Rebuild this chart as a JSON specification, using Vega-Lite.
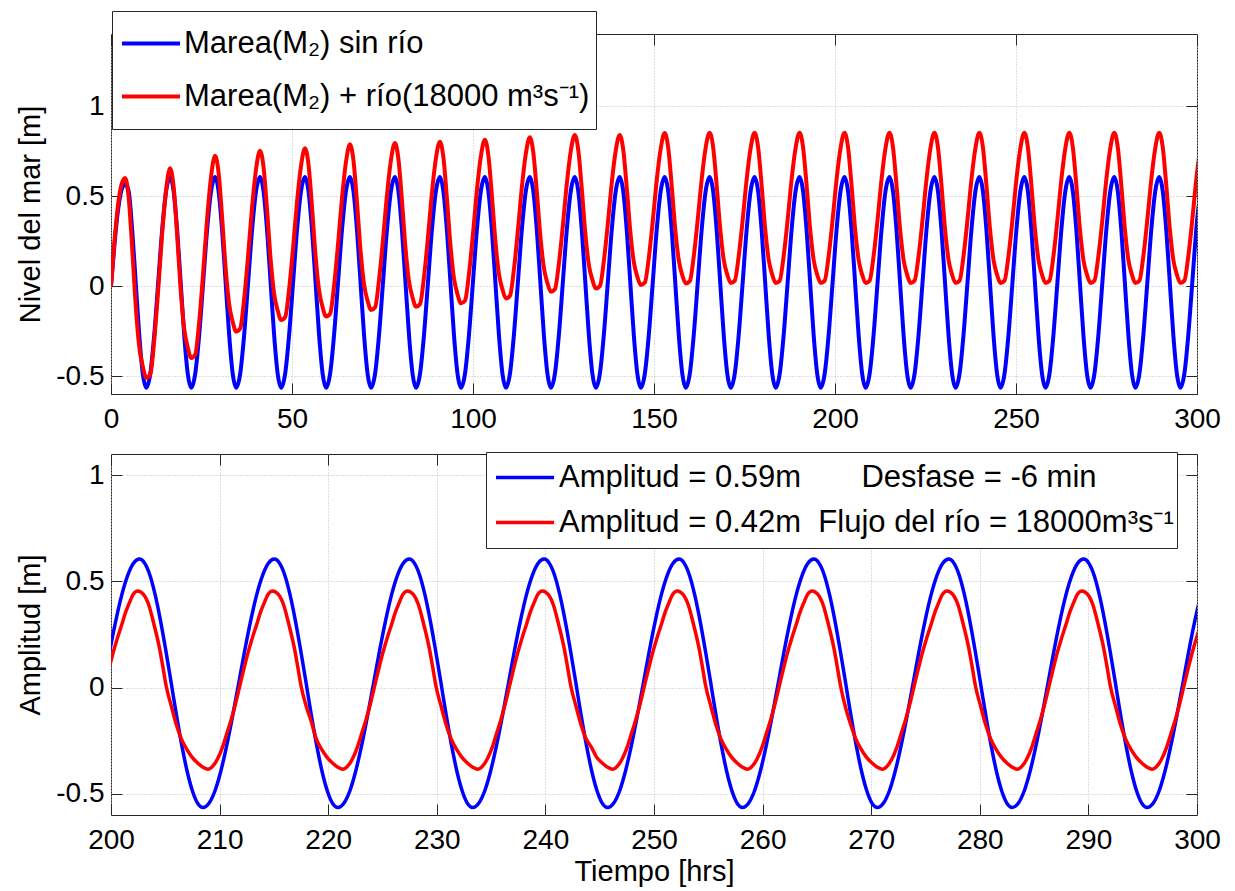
{
  "$schema": "https://vega.github.io/schema/vega-lite/v6.json",
  "background": "white",
  "padding": {"left": 15, "top": 10, "right": 20, "bottom": 0},
  "spacing": 17,
  "config": {
    "view": {"stroke": "#262626", "strokeWidth": 1},
    "axis": {
      "domain": false,
      "labelFont": "Liberation Sans",
      "labelFontSize": 28,
      "labelColor": "#000000",
      "titleFont": "Liberation Sans",
      "titleFontSize": 29,
      "titleFontWeight": "normal",
      "titleColor": "#000000",
      "tickColor": "#262626",
      "tickWidth": 1,
      "tickSize": -11,
      "gridColor": "#bfbfbf",
      "gridDash": [1, 2],
      "gridWidth": 1,
      "labelFlush": false,
      "labelOverlap": false,
      "labelBound": false
    },
    "legend": {
      "labelFont": "Liberation Sans",
      "labelColor": "#000000",
      "labelLimit": 2000,
      "strokeColor": "#262626",
      "fillColor": "#ffffff",
      "symbolType": "stroke",
      "rowPadding": 0,
      "title": null
    }
  },
  "datasets": {
    "top": [
      {"t":0,"b":0,"r":0},{"t":1,"b":0.24,"r":0.26},{"t":2,"b":0.43,"r":0.46},{"t":3,"b":0.54,"r":0.57},{"t":3.9,"b":0.565,"r":0.6},
      {"t":4.88,"b":0.527,"r":0.492},{"t":5.85,"b":0.312,"r":0.212},{"t":6.83,"b":0.02,"r":-0.111},{"t":7.8,"b":-0.272,"r":-0.338},{"t":8.78,"b":-0.487,"r":-0.448},{"t":9.75,"b":-0.565,"r":-0.51},{"t":10.85,"b":-0.487,"r":-0.491},{"t":11.94,"b":-0.272,"r":-0.302},{"t":13.04,"b":0.02,"r":-0.02},{"t":14.13,"b":0.312,"r":0.291},{"t":15.23,"b":0.527,"r":0.535},
      {"t":16.32,"b":0.605,"r":0.654},{"t":17.3,"b":0.527,"r":0.551},{"t":18.27,"b":0.312,"r":0.285},{"t":19.25,"b":0.02,"r":-0.021},{"t":20.22,"b":-0.272,"r":-0.237},{"t":21.2,"b":-0.487,"r":-0.341},{"t":22.17,"b":-0.565,"r":-0.4},{"t":23.27,"b":-0.487,"r":-0.381},{"t":24.36,"b":-0.272,"r":-0.199},{"t":25.46,"b":0.02,"r":0.074},{"t":26.55,"b":0.312,"r":0.373},{"t":27.65,"b":0.527,"r":0.609},
      {"t":28.74,"b":0.605,"r":0.724},{"t":29.72,"b":0.527,"r":0.629},{"t":30.69,"b":0.312,"r":0.382},{"t":31.67,"b":0.02,"r":0.099},{"t":32.64,"b":-0.272,"r":-0.102},{"t":33.62,"b":-0.487,"r":-0.199},{"t":34.59,"b":-0.565,"r":-0.253},{"t":35.69,"b":-0.487,"r":-0.236},{"t":36.78,"b":-0.272,"r":-0.073},{"t":37.88,"b":0.02,"r":0.17},{"t":38.97,"b":0.312,"r":0.438},{"t":40.07,"b":0.527,"r":0.649},
      {"t":41.16,"b":0.605,"r":0.752},{"t":42.14,"b":0.527,"r":0.66},{"t":43.11,"b":0.312,"r":0.423},{"t":44.09,"b":0.02,"r":0.15},{"t":45.06,"b":-0.272,"r":-0.043},{"t":46.04,"b":-0.487,"r":-0.136},{"t":47.01,"b":-0.565,"r":-0.189},{"t":48.11,"b":-0.487,"r":-0.173},{"t":49.2,"b":-0.272,"r":-0.018},{"t":50.3,"b":0.02,"r":0.213},{"t":51.39,"b":0.312,"r":0.467},{"t":52.49,"b":0.527,"r":0.667},
      {"t":53.58,"b":0.605,"r":0.765},{"t":54.56,"b":0.527,"r":0.674},{"t":55.53,"b":0.312,"r":0.438},{"t":56.51,"b":0.02,"r":0.167},{"t":57.48,"b":-0.272,"r":-0.025},{"t":58.46,"b":-0.487,"r":-0.118},{"t":59.43,"b":-0.565,"r":-0.17},{"t":60.53,"b":-0.487,"r":-0.154},{"t":61.62,"b":-0.272,"r":0.001},{"t":62.72,"b":0.02,"r":0.233},{"t":63.81,"b":0.312,"r":0.488},{"t":64.91,"b":0.527,"r":0.689},
      {"t":66,"b":0.605,"r":0.787},{"t":66.98,"b":0.527,"r":0.697},{"t":67.95,"b":0.312,"r":0.465},{"t":68.93,"b":0.02,"r":0.198},{"t":69.9,"b":-0.272,"r":0.01},{"t":70.88,"b":-0.487,"r":-0.082},{"t":71.85,"b":-0.565,"r":-0.133},{"t":72.95,"b":-0.487,"r":-0.118},{"t":74.04,"b":-0.272,"r":0.033},{"t":75.14,"b":0.02,"r":0.257},{"t":76.23,"b":0.312,"r":0.504},{"t":77.33,"b":0.527,"r":0.699},
      {"t":78.42,"b":0.605,"r":0.794},{"t":79.4,"b":0.527,"r":0.705},{"t":80.37,"b":0.312,"r":0.476},{"t":81.35,"b":0.02,"r":0.212},{"t":82.32,"b":-0.272,"r":0.026},{"t":83.3,"b":-0.487,"r":-0.064},{"t":84.27,"b":-0.565,"r":-0.115},{"t":85.37,"b":-0.487,"r":-0.1},{"t":86.46,"b":-0.272,"r":0.049},{"t":87.56,"b":0.02,"r":0.271},{"t":88.65,"b":0.312,"r":0.516},{"t":89.75,"b":0.527,"r":0.708},
      {"t":90.84,"b":0.605,"r":0.802},{"t":91.82,"b":0.527,"r":0.715},{"t":92.79,"b":0.312,"r":0.488},{"t":93.77,"b":0.02,"r":0.227},{"t":94.74,"b":-0.272,"r":0.043},{"t":95.72,"b":-0.487,"r":-0.046},{"t":96.69,"b":-0.565,"r":-0.096},{"t":97.79,"b":-0.487,"r":-0.081},{"t":98.88,"b":-0.272,"r":0.066},{"t":99.98,"b":0.02,"r":0.287},{"t":101.07,"b":0.312,"r":0.529},{"t":102.17,"b":0.527,"r":0.72},
      {"t":103.26,"b":0.605,"r":0.813},{"t":104.24,"b":0.527,"r":0.727},{"t":105.21,"b":0.312,"r":0.505},{"t":106.19,"b":0.02,"r":0.249},{"t":107.16,"b":-0.272,"r":0.068},{"t":108.14,"b":-0.487,"r":-0.019},{"t":109.11,"b":-0.565,"r":-0.069},{"t":110.21,"b":-0.487,"r":-0.054},{"t":111.3,"b":-0.272,"r":0.091},{"t":112.4,"b":0.02,"r":0.308},{"t":113.49,"b":0.312,"r":0.547},{"t":114.59,"b":0.527,"r":0.734},
      {"t":115.68,"b":0.605,"r":0.826},{"t":116.66,"b":0.527,"r":0.742},{"t":117.63,"b":0.312,"r":0.526},{"t":118.61,"b":0.02,"r":0.277},{"t":119.58,"b":-0.272,"r":0.101},{"t":120.56,"b":-0.487,"r":0.016},{"t":121.53,"b":-0.565,"r":-0.032},{"t":122.63,"b":-0.487,"r":-0.018},{"t":123.72,"b":-0.272,"r":0.124},{"t":124.82,"b":0.02,"r":0.335},{"t":125.91,"b":0.312,"r":0.567},{"t":127.01,"b":0.527,"r":0.75},
      {"t":128.1,"b":0.605,"r":0.839},{"t":129.08,"b":0.527,"r":0.756},{"t":130.05,"b":0.312,"r":0.541},{"t":131.03,"b":0.02,"r":0.293},{"t":132,"b":-0.272,"r":0.118},{"t":132.98,"b":-0.487,"r":0.034},{"t":133.95,"b":-0.565,"r":-0.014},{"t":135.05,"b":-0.487,"r":0},{"t":136.14,"b":-0.272,"r":0.138},{"t":137.24,"b":0.02,"r":0.345},{"t":138.33,"b":0.312,"r":0.573},{"t":139.43,"b":0.527,"r":0.752},
      {"t":140.52,"b":0.605,"r":0.839},{"t":141.5,"b":0.527,"r":0.758},{"t":142.47,"b":0.312,"r":0.547},{"t":143.45,"b":0.02,"r":0.305},{"t":144.42,"b":-0.272,"r":0.134},{"t":145.4,"b":-0.487,"r":0.051},{"t":146.37,"b":-0.565,"r":0.005},{"t":147.47,"b":-0.487,"r":0.019},{"t":148.56,"b":-0.272,"r":0.156},{"t":149.66,"b":0.02,"r":0.361},{"t":150.75,"b":0.312,"r":0.586},{"t":151.85,"b":0.527,"r":0.763},
      {"t":152.94,"b":0.605,"r":0.85},{"t":153.92,"b":0.527,"r":0.769},{"t":154.89,"b":0.312,"r":0.557},{"t":155.87,"b":0.02,"r":0.315},{"t":156.84,"b":-0.272,"r":0.144},{"t":157.82,"b":-0.487,"r":0.06},{"t":158.79,"b":-0.565,"r":0.014},{"t":159.89,"b":-0.487,"r":0.028},{"t":160.98,"b":-0.272,"r":0.164},{"t":162.08,"b":0.02,"r":0.368},{"t":163.17,"b":0.312,"r":0.592},{"t":164.27,"b":0.527,"r":0.768},
      {"t":165.36,"b":0.605,"r":0.852},{"t":166.34,"b":0.527,"r":0.771},{"t":167.31,"b":0.312,"r":0.56},{"t":168.29,"b":0.02,"r":0.318},{"t":169.26,"b":-0.272,"r":0.146},{"t":170.24,"b":-0.487,"r":0.063},{"t":171.21,"b":-0.565,"r":0.017},{"t":172.31,"b":-0.487,"r":0.03},{"t":173.4,"b":-0.272,"r":0.166},{"t":174.5,"b":0.02,"r":0.368},{"t":175.59,"b":0.312,"r":0.591},{"t":176.69,"b":0.527,"r":0.766},
      {"t":177.78,"b":0.605,"r":0.852},{"t":178.76,"b":0.527,"r":0.771},{"t":179.73,"b":0.312,"r":0.56},{"t":180.71,"b":0.02,"r":0.318},{"t":181.68,"b":-0.272,"r":0.146},{"t":182.66,"b":-0.487,"r":0.063},{"t":183.63,"b":-0.565,"r":0.017},{"t":184.73,"b":-0.487,"r":0.03},{"t":185.82,"b":-0.272,"r":0.166},{"t":186.92,"b":0.02,"r":0.368},{"t":188.01,"b":0.312,"r":0.591},{"t":189.11,"b":0.527,"r":0.766},
      {"t":190.2,"b":0.605,"r":0.852},{"t":191.18,"b":0.527,"r":0.771},{"t":192.15,"b":0.312,"r":0.56},{"t":193.13,"b":0.02,"r":0.318},{"t":194.1,"b":-0.272,"r":0.146},{"t":195.08,"b":-0.487,"r":0.063},{"t":196.05,"b":-0.565,"r":0.017},{"t":197.15,"b":-0.487,"r":0.03},{"t":198.24,"b":-0.272,"r":0.166},{"t":199.34,"b":0.02,"r":0.368},{"t":200.43,"b":0.312,"r":0.591},{"t":201.53,"b":0.527,"r":0.766},
      {"t":202.62,"b":0.605,"r":0.852},{"t":203.6,"b":0.527,"r":0.771},{"t":204.57,"b":0.312,"r":0.56},{"t":205.55,"b":0.02,"r":0.318},{"t":206.52,"b":-0.272,"r":0.146},{"t":207.5,"b":-0.487,"r":0.063},{"t":208.47,"b":-0.565,"r":0.017},{"t":209.57,"b":-0.487,"r":0.03},{"t":210.66,"b":-0.272,"r":0.166},{"t":211.76,"b":0.02,"r":0.368},{"t":212.85,"b":0.312,"r":0.591},{"t":213.95,"b":0.527,"r":0.766},
      {"t":215.04,"b":0.605,"r":0.852},{"t":216.02,"b":0.527,"r":0.771},{"t":216.99,"b":0.312,"r":0.56},{"t":217.97,"b":0.02,"r":0.318},{"t":218.94,"b":-0.272,"r":0.146},{"t":219.92,"b":-0.487,"r":0.063},{"t":220.89,"b":-0.565,"r":0.017},{"t":221.99,"b":-0.487,"r":0.03},{"t":223.08,"b":-0.272,"r":0.166},{"t":224.18,"b":0.02,"r":0.368},{"t":225.27,"b":0.312,"r":0.591},{"t":226.37,"b":0.527,"r":0.766},
      {"t":227.46,"b":0.605,"r":0.852},{"t":228.44,"b":0.527,"r":0.771},{"t":229.41,"b":0.312,"r":0.56},{"t":230.39,"b":0.02,"r":0.318},{"t":231.36,"b":-0.272,"r":0.146},{"t":232.34,"b":-0.487,"r":0.063},{"t":233.31,"b":-0.565,"r":0.017},{"t":234.41,"b":-0.487,"r":0.03},{"t":235.5,"b":-0.272,"r":0.166},{"t":236.6,"b":0.02,"r":0.368},{"t":237.69,"b":0.312,"r":0.591},{"t":238.79,"b":0.527,"r":0.766},
      {"t":239.88,"b":0.605,"r":0.852},{"t":240.86,"b":0.527,"r":0.771},{"t":241.83,"b":0.312,"r":0.56},{"t":242.81,"b":0.02,"r":0.318},{"t":243.78,"b":-0.272,"r":0.146},{"t":244.76,"b":-0.487,"r":0.063},{"t":245.73,"b":-0.565,"r":0.017},{"t":246.83,"b":-0.487,"r":0.03},{"t":247.92,"b":-0.272,"r":0.166},{"t":249.02,"b":0.02,"r":0.368},{"t":250.11,"b":0.312,"r":0.591},{"t":251.21,"b":0.527,"r":0.766},
      {"t":252.3,"b":0.605,"r":0.852},{"t":253.28,"b":0.527,"r":0.771},{"t":254.25,"b":0.312,"r":0.56},{"t":255.23,"b":0.02,"r":0.318},{"t":256.2,"b":-0.272,"r":0.146},{"t":257.18,"b":-0.487,"r":0.063},{"t":258.15,"b":-0.565,"r":0.017},{"t":259.25,"b":-0.487,"r":0.03},{"t":260.34,"b":-0.272,"r":0.166},{"t":261.44,"b":0.02,"r":0.368},{"t":262.53,"b":0.312,"r":0.591},{"t":263.63,"b":0.527,"r":0.766},
      {"t":264.72,"b":0.605,"r":0.852},{"t":265.7,"b":0.527,"r":0.771},{"t":266.67,"b":0.312,"r":0.56},{"t":267.65,"b":0.02,"r":0.318},{"t":268.62,"b":-0.272,"r":0.146},{"t":269.6,"b":-0.487,"r":0.063},{"t":270.57,"b":-0.565,"r":0.017},{"t":271.67,"b":-0.487,"r":0.03},{"t":272.76,"b":-0.272,"r":0.166},{"t":273.86,"b":0.02,"r":0.368},{"t":274.95,"b":0.312,"r":0.591},{"t":276.05,"b":0.527,"r":0.766},
      {"t":277.14,"b":0.605,"r":0.852},{"t":278.12,"b":0.527,"r":0.771},{"t":279.09,"b":0.312,"r":0.56},{"t":280.07,"b":0.02,"r":0.318},{"t":281.04,"b":-0.272,"r":0.146},{"t":282.02,"b":-0.487,"r":0.063},{"t":282.99,"b":-0.565,"r":0.017},{"t":284.09,"b":-0.487,"r":0.03},{"t":285.18,"b":-0.272,"r":0.166},{"t":286.28,"b":0.02,"r":0.368},{"t":287.37,"b":0.312,"r":0.591},{"t":288.47,"b":0.527,"r":0.766},
      {"t":289.56,"b":0.605,"r":0.852},{"t":290.54,"b":0.527,"r":0.771},{"t":291.51,"b":0.312,"r":0.56},{"t":292.49,"b":0.02,"r":0.318},{"t":293.46,"b":-0.272,"r":0.146},{"t":294.44,"b":-0.487,"r":0.063},{"t":295.41,"b":-0.565,"r":0.017},{"t":296.51,"b":-0.487,"r":0.03},{"t":297.6,"b":-0.272,"r":0.166},{"t":298.7,"b":0.02,"r":0.368},{"t":299.79,"b":0.312,"r":0.591},{"t":300.89,"b":0.527,"r":0.766}
    ],
    "botBlue": [
      {"t":199.34,"v":0.02},{"t":199.88,"v":0.171},{"t":200.43,"v":0.312},{"t":200.98,"v":0.434},{"t":201.53,"v":0.527},{"t":202.07,"v":0.585},
      {"t":202.62,"v":0.605},{"t":203.11,"v":0.585},{"t":203.6,"v":0.527},{"t":204.08,"v":0.434},{"t":204.57,"v":0.312},{"t":205.06,"v":0.171},{"t":205.55,"v":0.02},{"t":206.03,"v":-0.131},{"t":206.52,"v":-0.272},{"t":207.01,"v":-0.394},{"t":207.5,"v":-0.487},{"t":207.98,"v":-0.545},{"t":208.47,"v":-0.565},{"t":209.02,"v":-0.545},{"t":209.57,"v":-0.487},{"t":210.11,"v":-0.394},{"t":210.66,"v":-0.272},{"t":211.21,"v":-0.131},{"t":211.76,"v":0.02},{"t":212.3,"v":0.171},{"t":212.85,"v":0.312},{"t":213.4,"v":0.434},{"t":213.95,"v":0.527},{"t":214.49,"v":0.585},
      {"t":215.04,"v":0.605},{"t":215.53,"v":0.585},{"t":216.02,"v":0.527},{"t":216.5,"v":0.434},{"t":216.99,"v":0.312},{"t":217.48,"v":0.171},{"t":217.97,"v":0.02},{"t":218.45,"v":-0.131},{"t":218.94,"v":-0.272},{"t":219.43,"v":-0.394},{"t":219.92,"v":-0.487},{"t":220.4,"v":-0.545},{"t":220.89,"v":-0.565},{"t":221.44,"v":-0.545},{"t":221.99,"v":-0.487},{"t":222.53,"v":-0.394},{"t":223.08,"v":-0.272},{"t":223.63,"v":-0.131},{"t":224.18,"v":0.02},{"t":224.72,"v":0.171},{"t":225.27,"v":0.312},{"t":225.82,"v":0.434},{"t":226.37,"v":0.527},{"t":226.91,"v":0.585},
      {"t":227.46,"v":0.605},{"t":227.95,"v":0.585},{"t":228.44,"v":0.527},{"t":228.92,"v":0.434},{"t":229.41,"v":0.312},{"t":229.9,"v":0.171},{"t":230.39,"v":0.02},{"t":230.87,"v":-0.131},{"t":231.36,"v":-0.272},{"t":231.85,"v":-0.394},{"t":232.34,"v":-0.487},{"t":232.82,"v":-0.545},{"t":233.31,"v":-0.565},{"t":233.86,"v":-0.545},{"t":234.41,"v":-0.487},{"t":234.95,"v":-0.394},{"t":235.5,"v":-0.272},{"t":236.05,"v":-0.131},{"t":236.6,"v":0.02},{"t":237.14,"v":0.171},{"t":237.69,"v":0.312},{"t":238.24,"v":0.434},{"t":238.79,"v":0.527},{"t":239.33,"v":0.585},
      {"t":239.88,"v":0.605},{"t":240.37,"v":0.585},{"t":240.86,"v":0.527},{"t":241.34,"v":0.434},{"t":241.83,"v":0.312},{"t":242.32,"v":0.171},{"t":242.81,"v":0.02},{"t":243.29,"v":-0.131},{"t":243.78,"v":-0.272},{"t":244.27,"v":-0.394},{"t":244.76,"v":-0.487},{"t":245.24,"v":-0.545},{"t":245.73,"v":-0.565},{"t":246.28,"v":-0.545},{"t":246.83,"v":-0.487},{"t":247.37,"v":-0.394},{"t":247.92,"v":-0.272},{"t":248.47,"v":-0.131},{"t":249.02,"v":0.02},{"t":249.56,"v":0.171},{"t":250.11,"v":0.312},{"t":250.66,"v":0.434},{"t":251.21,"v":0.527},{"t":251.75,"v":0.585},
      {"t":252.3,"v":0.605},{"t":252.79,"v":0.585},{"t":253.28,"v":0.527},{"t":253.76,"v":0.434},{"t":254.25,"v":0.312},{"t":254.74,"v":0.171},{"t":255.23,"v":0.02},{"t":255.71,"v":-0.131},{"t":256.2,"v":-0.272},{"t":256.69,"v":-0.394},{"t":257.18,"v":-0.487},{"t":257.66,"v":-0.545},{"t":258.15,"v":-0.565},{"t":258.7,"v":-0.545},{"t":259.25,"v":-0.487},{"t":259.79,"v":-0.394},{"t":260.34,"v":-0.272},{"t":260.89,"v":-0.131},{"t":261.44,"v":0.02},{"t":261.98,"v":0.171},{"t":262.53,"v":0.312},{"t":263.08,"v":0.434},{"t":263.63,"v":0.527},{"t":264.17,"v":0.585},
      {"t":264.72,"v":0.605},{"t":265.21,"v":0.585},{"t":265.7,"v":0.527},{"t":266.18,"v":0.434},{"t":266.67,"v":0.312},{"t":267.16,"v":0.171},{"t":267.65,"v":0.02},{"t":268.13,"v":-0.131},{"t":268.62,"v":-0.272},{"t":269.11,"v":-0.394},{"t":269.6,"v":-0.487},{"t":270.08,"v":-0.545},{"t":270.57,"v":-0.565},{"t":271.12,"v":-0.545},{"t":271.67,"v":-0.487},{"t":272.21,"v":-0.394},{"t":272.76,"v":-0.272},{"t":273.31,"v":-0.131},{"t":273.86,"v":0.02},{"t":274.4,"v":0.171},{"t":274.95,"v":0.312},{"t":275.5,"v":0.434},{"t":276.05,"v":0.527},{"t":276.59,"v":0.585},
      {"t":277.14,"v":0.605},{"t":277.63,"v":0.585},{"t":278.12,"v":0.527},{"t":278.6,"v":0.434},{"t":279.09,"v":0.312},{"t":279.58,"v":0.171},{"t":280.07,"v":0.02},{"t":280.55,"v":-0.131},{"t":281.04,"v":-0.272},{"t":281.53,"v":-0.394},{"t":282.02,"v":-0.487},{"t":282.5,"v":-0.545},{"t":282.99,"v":-0.565},{"t":283.54,"v":-0.545},{"t":284.09,"v":-0.487},{"t":284.63,"v":-0.394},{"t":285.18,"v":-0.272},{"t":285.73,"v":-0.131},{"t":286.28,"v":0.02},{"t":286.82,"v":0.171},{"t":287.37,"v":0.312},{"t":287.92,"v":0.434},{"t":288.47,"v":0.527},{"t":289.01,"v":0.585},
      {"t":289.56,"v":0.605},{"t":290.05,"v":0.585},{"t":290.54,"v":0.527},{"t":291.02,"v":0.434},{"t":291.51,"v":0.312},{"t":292,"v":0.171},{"t":292.49,"v":0.02},{"t":292.97,"v":-0.131},{"t":293.46,"v":-0.272},{"t":293.95,"v":-0.394},{"t":294.44,"v":-0.487},{"t":294.92,"v":-0.545},{"t":295.41,"v":-0.565},{"t":295.96,"v":-0.545},{"t":296.51,"v":-0.487},{"t":297.05,"v":-0.394},{"t":297.6,"v":-0.272},{"t":298.15,"v":-0.131},{"t":298.7,"v":0.02},{"t":299.24,"v":0.171},{"t":299.79,"v":0.312},{"t":300.34,"v":0.434}
    ],
    "botRed": [
      {"t":199.4,"v":0},{"t":199.8,"v":0.085},{"t":200.2,"v":0.165},{"t":200.6,"v":0.235},{"t":200.95,"v":0.29},{"t":201.35,"v":0.355},{"t":201.7,"v":0.4},{"t":202.05,"v":0.44},
      {"t":202.47,"v":0.455},{"t":202.97,"v":0.44},{"t":203.47,"v":0.39},{"t":203.97,"v":0.295},{"t":204.47,"v":0.185},{"t":204.77,"v":0.1},{"t":205.07,"v":0.01},{"t":205.57,"v":-0.09},{"t":206.02,"v":-0.175},{"t":206.47,"v":-0.24},{"t":206.97,"v":-0.29},{"t":207.42,"v":-0.325},{"t":207.97,"v":-0.355},{"t":208.47,"v":-0.375},{"t":208.92,"v":-0.385},{"t":209.37,"v":-0.37},{"t":209.77,"v":-0.34},{"t":210.27,"v":-0.28},{"t":210.67,"v":-0.215},{"t":211.07,"v":-0.15},{"t":211.47,"v":-0.075},{"t":211.82,"v":0},{"t":212.22,"v":0.085},{"t":212.62,"v":0.165},{"t":213.02,"v":0.235},{"t":213.37,"v":0.29},{"t":213.77,"v":0.355},{"t":214.12,"v":0.4},{"t":214.47,"v":0.44},
      {"t":214.89,"v":0.455},{"t":215.39,"v":0.44},{"t":215.89,"v":0.39},{"t":216.39,"v":0.295},{"t":216.89,"v":0.185},{"t":217.19,"v":0.1},{"t":217.49,"v":0.01},{"t":217.99,"v":-0.09},{"t":218.44,"v":-0.16},{"t":218.89,"v":-0.24},{"t":219.39,"v":-0.29},{"t":219.84,"v":-0.325},{"t":220.39,"v":-0.355},{"t":220.89,"v":-0.375},{"t":221.34,"v":-0.385},{"t":221.79,"v":-0.37},{"t":222.19,"v":-0.34},{"t":222.69,"v":-0.28},{"t":223.09,"v":-0.215},{"t":223.49,"v":-0.15},{"t":223.89,"v":-0.075},{"t":224.24,"v":0},{"t":224.64,"v":0.085},{"t":225.04,"v":0.165},{"t":225.44,"v":0.235},{"t":225.79,"v":0.29},{"t":226.19,"v":0.355},{"t":226.54,"v":0.4},{"t":226.89,"v":0.44},
      {"t":227.31,"v":0.455},{"t":227.81,"v":0.44},{"t":228.31,"v":0.39},{"t":228.81,"v":0.295},{"t":229.31,"v":0.185},{"t":229.61,"v":0.1},{"t":229.91,"v":0.01},{"t":230.41,"v":-0.09},{"t":230.86,"v":-0.175},{"t":231.31,"v":-0.24},{"t":231.81,"v":-0.29},{"t":232.26,"v":-0.325},{"t":232.81,"v":-0.355},{"t":233.31,"v":-0.375},{"t":233.76,"v":-0.385},{"t":234.21,"v":-0.37},{"t":234.61,"v":-0.34},{"t":235.11,"v":-0.28},{"t":235.51,"v":-0.215},{"t":235.91,"v":-0.15},{"t":236.31,"v":-0.075},{"t":236.66,"v":0},{"t":237.06,"v":0.085},{"t":237.46,"v":0.165},{"t":237.86,"v":0.235},{"t":238.21,"v":0.29},{"t":238.61,"v":0.355},{"t":238.96,"v":0.4},{"t":239.31,"v":0.44},
      {"t":239.73,"v":0.455},{"t":240.23,"v":0.44},{"t":240.73,"v":0.39},{"t":241.23,"v":0.295},{"t":241.73,"v":0.185},{"t":242.03,"v":0.1},{"t":242.33,"v":0.01},{"t":242.83,"v":-0.09},{"t":243.28,"v":-0.175},{"t":243.73,"v":-0.24},{"t":244.23,"v":-0.28},{"t":244.68,"v":-0.325},{"t":245.23,"v":-0.355},{"t":245.73,"v":-0.375},{"t":246.18,"v":-0.385},{"t":246.63,"v":-0.37},{"t":247.03,"v":-0.34},{"t":247.53,"v":-0.28},{"t":247.93,"v":-0.215},{"t":248.33,"v":-0.15},{"t":248.73,"v":-0.075},{"t":249.08,"v":0},{"t":249.48,"v":0.085},{"t":249.88,"v":0.165},{"t":250.28,"v":0.235},{"t":250.63,"v":0.29},{"t":251.03,"v":0.355},{"t":251.38,"v":0.4},{"t":251.73,"v":0.44},
      {"t":252.15,"v":0.455},{"t":252.65,"v":0.44},{"t":253.15,"v":0.39},{"t":253.65,"v":0.295},{"t":254.15,"v":0.185},{"t":254.45,"v":0.1},{"t":254.75,"v":0.01},{"t":255.25,"v":-0.09},{"t":255.7,"v":-0.175},{"t":256.15,"v":-0.24},{"t":256.65,"v":-0.29},{"t":257.1,"v":-0.325},{"t":257.65,"v":-0.355},{"t":258.15,"v":-0.375},{"t":258.6,"v":-0.385},{"t":259.05,"v":-0.37},{"t":259.45,"v":-0.34},{"t":259.95,"v":-0.28},{"t":260.35,"v":-0.215},{"t":260.75,"v":-0.15},{"t":261.15,"v":-0.075},{"t":261.5,"v":0},{"t":261.9,"v":0.085},{"t":262.3,"v":0.165},{"t":262.7,"v":0.235},{"t":263.05,"v":0.29},{"t":263.45,"v":0.355},{"t":263.8,"v":0.4},{"t":264.15,"v":0.44},
      {"t":264.57,"v":0.455},{"t":265.07,"v":0.44},{"t":265.57,"v":0.39},{"t":266.07,"v":0.295},{"t":266.57,"v":0.185},{"t":266.87,"v":0.1},{"t":267.17,"v":0.01},{"t":267.67,"v":-0.1},{"t":268.12,"v":-0.175},{"t":268.57,"v":-0.24},{"t":269.07,"v":-0.29},{"t":269.52,"v":-0.325},{"t":270.07,"v":-0.355},{"t":270.57,"v":-0.375},{"t":271.02,"v":-0.385},{"t":271.47,"v":-0.37},{"t":271.87,"v":-0.34},{"t":272.37,"v":-0.28},{"t":272.77,"v":-0.215},{"t":273.17,"v":-0.15},{"t":273.57,"v":-0.075},{"t":273.92,"v":0},{"t":274.32,"v":0.085},{"t":274.72,"v":0.165},{"t":275.12,"v":0.235},{"t":275.47,"v":0.29},{"t":275.87,"v":0.355},{"t":276.22,"v":0.4},{"t":276.57,"v":0.44},
      {"t":276.99,"v":0.455},{"t":277.49,"v":0.44},{"t":277.99,"v":0.39},{"t":278.49,"v":0.295},{"t":278.99,"v":0.185},{"t":279.29,"v":0.1},{"t":279.59,"v":0.01},{"t":280.09,"v":-0.09},{"t":280.54,"v":-0.175},{"t":280.99,"v":-0.24},{"t":281.49,"v":-0.29},{"t":281.94,"v":-0.325},{"t":282.49,"v":-0.355},{"t":282.99,"v":-0.375},{"t":283.44,"v":-0.385},{"t":283.89,"v":-0.37},{"t":284.29,"v":-0.34},{"t":284.79,"v":-0.28},{"t":285.19,"v":-0.215},{"t":285.59,"v":-0.15},{"t":285.99,"v":-0.075},{"t":286.34,"v":0},{"t":286.74,"v":0.085},{"t":287.14,"v":0.165},{"t":287.54,"v":0.235},{"t":287.89,"v":0.29},{"t":288.29,"v":0.355},{"t":288.64,"v":0.4},{"t":288.99,"v":0.44},
      {"t":289.41,"v":0.455},{"t":289.91,"v":0.44},{"t":290.41,"v":0.39},{"t":290.91,"v":0.295},{"t":291.41,"v":0.185},{"t":291.71,"v":0.1},{"t":292.01,"v":0.01},{"t":292.51,"v":-0.09},{"t":292.96,"v":-0.175},{"t":293.41,"v":-0.24},{"t":293.91,"v":-0.29},{"t":294.36,"v":-0.325},{"t":294.91,"v":-0.355},{"t":295.41,"v":-0.375},{"t":295.86,"v":-0.385},{"t":296.31,"v":-0.37},{"t":296.71,"v":-0.34},{"t":297.21,"v":-0.28},{"t":297.61,"v":-0.215},{"t":298.01,"v":-0.15},{"t":298.41,"v":-0.075},{"t":298.76,"v":0},{"t":299.16,"v":0.085},{"t":299.56,"v":0.165},{"t":299.96,"v":0.235},{"t":300.31,"v":0.29}
    ]
  },
  "vconcat": [
    {
      "width": 1086,
      "height": 360,
      "data": {"name": "top"},
      "layer": [
        {
          "mark": {"type": "line", "clip": true, "strokeWidth": 4, "interpolate": "monotone"},
          "encoding": {
            "x": {"field": "t", "type": "quantitative", "scale": {"domain": [0, 300], "nice": false},
                  "axis": {"orient": "bottom", "values": [0, 50, 100, 150, 200, 250, 300], "title": null, "grid": true, "labelPadding": 22}},
            "y": {"field": "b", "type": "quantitative", "scale": {"domain": [-0.6, 1.4], "nice": false, "zero": false},
                  "axis": {"orient": "left", "values": [-0.5, 0, 0.5, 1], "labelExpr": "'' + datum.value", "title": "Nivel del mar [m]", "grid": true, "labelPadding": 18, "minExtent": 56, "maxExtent": 56, "titlePadding": 10}},
            "color": {"datum": "Marea(M\u2082) sin r\u00edo", "type": "nominal",
                      "scale": {"domain": ["Marea(M\u2082) sin r\u00edo", "Marea(M\u2082) + r\u00edo(18000 m\u00b3s\u207b\u00b9)\u00a0\u00a0"], "range": ["#0000ff", "#ff0000"]},
                      "legend": {"orient": "none", "legendX": 1, "legendY": -23, "symbolSize": 3364, "symbolStrokeWidth": 4, "labelFontSize": 31, "clipHeight": 53, "padding": 6, "symbolOffset": 2, "labelOffset": 2}}
          }
        },
        {
          "mark": {"type": "line", "clip": true, "strokeWidth": 4, "interpolate": "monotone"},
          "encoding": {
            "x": {"field": "t", "type": "quantitative",
                  "axis": {"orient": "top", "values": [0, 50, 100, 150, 200, 250, 300], "title": null, "grid": false, "labels": false}},
            "y": {"field": "r", "type": "quantitative",
                  "axis": {"orient": "right", "values": [-0.5, 0, 0.5, 1], "title": null, "grid": false, "labels": false}},
            "color": {"datum": "Marea(M\u2082) + r\u00edo(18000 m\u00b3s\u207b\u00b9)\u00a0\u00a0", "type": "nominal"}
          }
        }
      ],
      "resolve": {"axis": {"x": "independent", "y": "independent"}}
    },
    {
      "width": 1086,
      "height": 361,
      "layer": [
        {
          "data": {"name": "botBlue"},
          "mark": {"type": "line", "clip": true, "strokeWidth": 3.5, "interpolate": "monotone"},
          "encoding": {
            "x": {"field": "t", "type": "quantitative", "scale": {"domain": [200, 300], "nice": false, "zero": false},
                  "axis": {"orient": "bottom", "values": [200, 210, 220, 230, 240, 250, 260, 270, 280, 290, 300], "title": "Tiempo [hrs]", "grid": true, "labelPadding": 22, "titlePadding": 3}},
            "y": {"field": "v", "type": "quantitative", "scale": {"domain": [-0.6, 1.1], "nice": false, "zero": false},
                  "axis": {"orient": "left", "values": [-0.5, 0, 0.5, 1], "labelExpr": "'' + datum.value", "title": "Amplitud [m]", "grid": true, "labelPadding": 18, "minExtent": 56, "maxExtent": 56, "titlePadding": 10}},
            "color": {"datum": "Amplitud = 0.59m\u00a0\u00a0\u00a0\u00a0\u00a0\u00a0\u00a0Desfase = -6 min", "type": "nominal",
                      "scale": {"domain": ["Amplitud = 0.59m\u00a0\u00a0\u00a0\u00a0\u00a0\u00a0\u00a0Desfase = -6 min", "Amplitud = 0.42m\u00a0\u00a0Flujo del r\u00edo = 18000m\u00b3s\u207b\u00b9\u00a0\u00a0"], "range": ["#0000ff", "#ff0000"]},
                      "legend": {"orient": "none", "legendX": 375, "legendY": -2, "symbolSize": 3364, "symbolStrokeWidth": 3.5, "labelFontSize": 31, "clipHeight": 45, "padding": 3, "symbolOffset": 5, "labelOffset": 3}}
          }
        },
        {
          "data": {"name": "botRed"},
          "mark": {"type": "line", "clip": true, "strokeWidth": 3.5, "interpolate": "monotone"},
          "encoding": {
            "x": {"field": "t", "type": "quantitative",
                  "axis": {"orient": "top", "values": [200, 210, 220, 230, 240, 250, 260, 270, 280, 290, 300], "title": null, "grid": false, "labels": false}},
            "y": {"field": "v", "type": "quantitative",
                  "axis": {"orient": "right", "values": [-0.5, 0, 0.5, 1], "title": null, "grid": false, "labels": false}},
            "color": {"datum": "Amplitud = 0.42m\u00a0\u00a0Flujo del r\u00edo = 18000m\u00b3s\u207b\u00b9\u00a0\u00a0", "type": "nominal"}
          }
        }
      ],
      "resolve": {"axis": {"x": "independent", "y": "independent"}}
    }
  ],
  "resolve": {"scale": {"x": "independent", "y": "independent", "color": "independent"}, "legend": {"color": "independent"}}
}
